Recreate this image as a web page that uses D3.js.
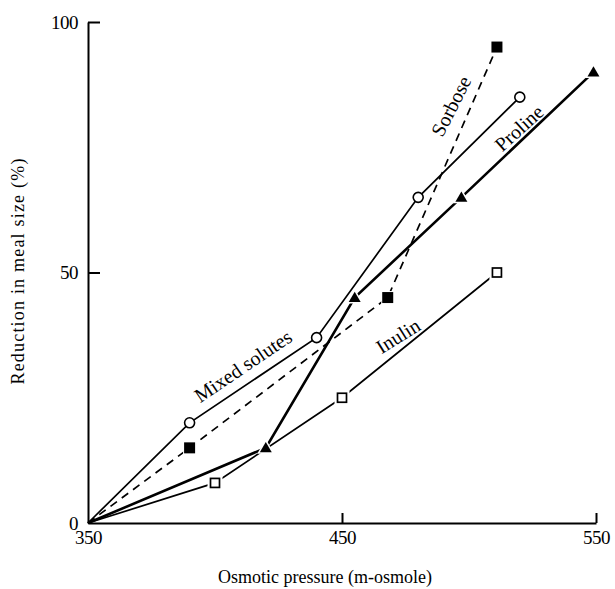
<!DOCTYPE html>
<html><head><meta charset="utf-8">
<script src="https://cdn.jsdelivr.net/npm/d3@7"></script>
<style>body{margin:0;background:#fff}svg{display:block}</style>
</head><body><svg id="c" width="615" height="589"></svg>
<script>
const xTicks = [350, 450, 550];
const yTicks = [0, 50, 100];
const mixedX = [350, 390, 440, 480, 520];
const mixedY = [0, 20, 37, 65, 85];
const sorboseX = [350, 390, 468, 511];
const sorboseY = [0, 15, 45, 95];
const prolineX = [350, 420, 455, 497, 549];
const prolineY = [0, 15, 45, 65, 90];
const inulinX = [350, 400, 450, 511];
const inulinY = [0, 8, 25, 50];

const svg = d3.select("#c");
const font = "'Liberation Serif','DejaVu Serif',serif";
const x = d3.scaleLinear().domain([350, 550]).range([88, 596]);
const y = d3.scaleLinear().domain([0, 100]).range([523, 22]);

const gx = svg.append("g").attr("transform", "translate(0,523)")
  .call(d3.axisBottom(x).tickValues(xTicks).tickSize(-10).tickSizeOuter(0).tickPadding(8).tickFormat(d3.format("d")));
const gy = svg.append("g").attr("transform", "translate(88,0)")
  .call(d3.axisLeft(y).tickValues(yTicks).tickSize(-12).tickSizeOuter(0).tickPadding(10).tickFormat(d3.format("d")));
[gx, gy].forEach(g => {
  g.selectAll("path,line").attr("stroke", "#000").attr("stroke-width", 2);
  g.selectAll("text").attr("font-family", font).attr("font-size", 19).attr("fill", "#000").attr("letter-spacing", -0.5);
});
gx.selectAll(".tick").filter(d => d === 350).select("line").remove();
gy.selectAll(".tick").filter(d => d === 0).select("line").remove();

function pts(xs, ys) { return xs.map((v, i) => [x(v), y(ys[i])]); }
const line = d3.line();

const series = [
  {xs: mixedX, ys: mixedY, w: 1.7, dash: null, m: "circle"},
  {xs: sorboseX, ys: sorboseY, w: 1.7, dash: "8,6", m: "fsquare"},
  {xs: prolineX, ys: prolineY, w: 2.6, dash: null, m: "tri"},
  {xs: inulinX, ys: inulinY, w: 1.7, dash: null, m: "osquare"}
];
series.forEach(s => {
  svg.append("path").attr("d", line(pts(s.xs, s.ys))).attr("fill", "none")
    .attr("stroke", "#000").attr("stroke-width", s.w).attr("stroke-dasharray", s.dash);
});
series.forEach(s => {
  const p = pts(s.xs, s.ys).slice(1);
  const g = svg.append("g");
  p.forEach(([px, py]) => {
    if (s.m === "circle") {
      g.append("circle").attr("cx", px).attr("cy", py).attr("r", 5)
        .attr("fill", "#fff").attr("stroke", "#000").attr("stroke-width", 1.6);
    } else if (s.m === "fsquare") {
      g.append("rect").attr("x", px - 5.5).attr("y", py - 5.5).attr("width", 11).attr("height", 11)
        .attr("fill", "#000").attr("stroke", "#fff").attr("stroke-width", 2).attr("paint-order", "stroke");
    } else if (s.m === "osquare") {
      g.append("rect").attr("x", px - 4.5).attr("y", py - 4.5).attr("width", 9).attr("height", 9)
        .attr("fill", "#fff").attr("stroke", "#fff").attr("stroke-width", 6);
      g.append("rect").attr("x", px - 4.5).attr("y", py - 4.5).attr("width", 9).attr("height", 9)
        .attr("fill", "#fff").attr("stroke", "#000").attr("stroke-width", 1.7);
    } else {
      const t = d3.symbol().type(d3.symbolTriangle).size(62);
      g.append("path").attr("d", t()).attr("transform", `translate(${px},${py + 1})`)
        .attr("fill", "#000").attr("stroke", "#fff").attr("stroke-width", 3).attr("paint-order", "stroke");
    }
  });
});

const labels = [
  {t: "Mixed solutes", cx: 243, cy: 366, a: -34},
  {t: "Sorbose", cx: 451, cy: 106, a: -63},
  {t: "Proline", cx: 519, cy: 128, a: -42},
  {t: "Inulin", cx: 398, cy: 336, a: -32}
];
labels.forEach(l => {
  svg.append("text").text(l.t).attr("font-family", font).attr("font-size", 20)
    .attr("text-anchor", "middle").attr("dominant-baseline", "central")
    .attr("transform", `translate(${l.cx},${l.cy}) rotate(${l.a})`);
});

svg.append("text").text("Osmotic pressure (m-osmole)").attr("font-family", font).attr("font-size", 18)
  .attr("text-anchor", "middle").attr("x", 325).attr("y", 583);
svg.append("text").text("Reduction in meal size (%)").attr("font-family", font).attr("font-size", 18)
  .attr("letter-spacing", 1.2)
  .attr("text-anchor", "middle").attr("transform", "translate(24,271) rotate(-90)");
</script></body></html>
